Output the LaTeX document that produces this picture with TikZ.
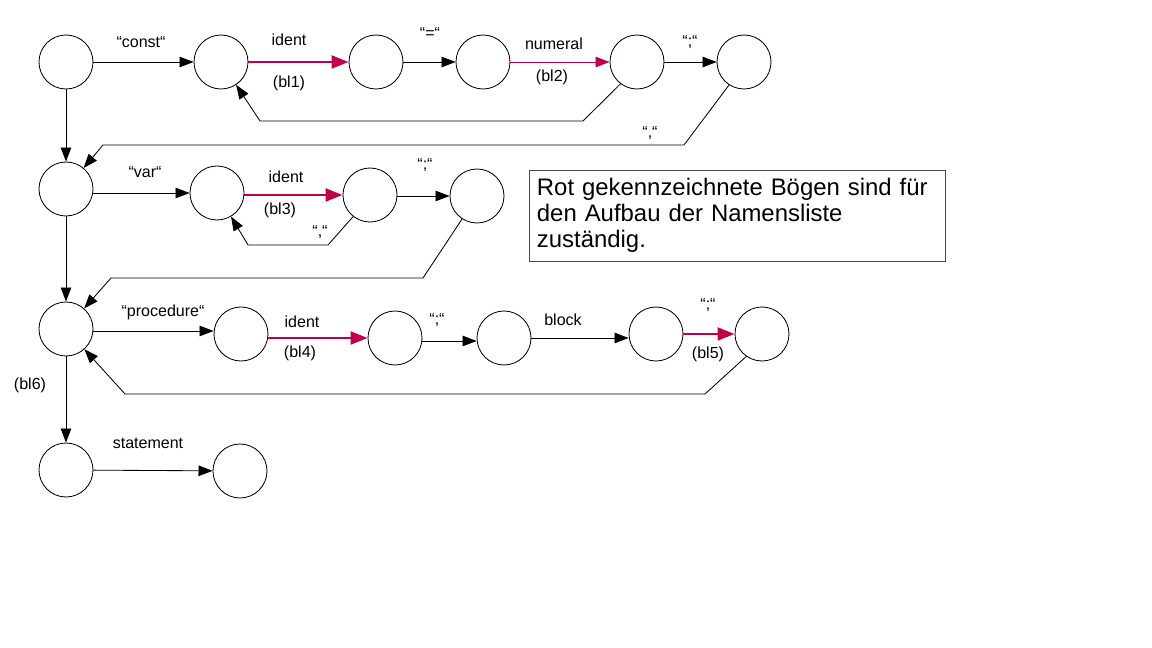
\documentclass[tikz,border=0pt]{standalone}
\usepackage{fontspec}
\setmainfont{Liberation Sans}
\usetikzlibrary{arrows.meta}
\definecolor{namered}{RGB}{190,0,75}
\tikzstyle{State}=[circle, minimum size=1.35cm, inner sep=0pt, draw=black, line width=0.6pt]
\tikzstyle{Label}=[font=\fontsize{11.4}{13}\selectfont, inner sep=1pt]
\tikzstyle{Arc}=[-{Triangle[length=10pt,width=7.5pt]}, draw=black, line width=0.6pt]
\tikzstyle{NameArc}=[-{Triangle[length=12pt,width=9pt]}, draw=namered, line width=2pt]

\begin{document}
\begin{tikzpicture}[x=0.025cm, y=-0.025cm]
    \useasboundingbox (0,0) rectangle (1152,648);

    % states of the block graph
    \path
    (66,62) node[State] (k1) {}
    (221,62) node[State] (k2) {}
    (376,62) node[State] (k3) {}
    (483,62) node[State] (k4) {}
    (637,62) node[State] (k5) {}
    (744,62) node[State] (k6) {};

    \path
    (66,189) node[State] (v1) {}
    (217,193) node[State] (v2) {}
    (370,195) node[State] (v3) {}
    (477,196) node[State] (v4) {};

    \path
    (66,329) node[State] (p1) {}
    (241,334) node[State] (p2) {}
    (395,338) node[State] (p3) {}
    (504,338) node[State] (p4) {}
    (656,334) node[State] (p5) {}
    (762,334) node[State] (p6) {};

    \path
    (66,470) node[State] (s1) {}
    (240,471) node[State] (s2) {};

    % const part
    \draw[Arc] (k1) -- (k2);
    \draw[NameArc] (k2) -- (k3);
    \draw[Arc] (k3) -- (k4);
    \draw[Arc, draw=namered] (k4) -- (k5);
    \draw[Arc] (k5) -- (k6);
    \draw[Arc] (k5.233) -- (583,121) -- (260,121) -- (k2);
    \draw[Arc] (k6.237) -- (684,145) -- (103,145) -- (v1);
    \draw[Arc] (k1) -- (v1);

    % var part
    \draw[Arc] (v1.east |- v2) -- (v2);
    \draw[NameArc] (v2.east |- v3) -- (v3);
    \draw[Arc] (v3.east |- v4) -- (v4);
    \draw[Arc] (v3.232) -- (328,245) -- (248,245) -- (v2);
    \draw[Arc] (v4.237) -- (423,278) -- (111,278) -- (p1);
    \draw[Arc] (v1) -- (p1);

    % procedure part
    \draw[Arc] (p1.east |- 0,331) -- (p2.west |- 0,331);
    \draw[NameArc] (p2.east |- p3) -- (p3);
    \draw[Arc] (p3.east |- 0,341) -- (p4.west |- 0,341);
    \draw[Arc] (p4.east |- 0,338) -- (p5.west |- 0,338);
    \draw[NameArc] (p5) -- (p6);
    \draw[Arc] (p6.235) -- (705,394) -- (125,394) -- (p1);
    \draw[Arc] (p1) -- (s1);

    % statement
    \draw[Arc] (s1) -- (s2);

    \path
    (141,42) node[Label] (lconst) {“const“}
    (289,40) node[Label] (lident1) {ident}
    (289,83) node[Label] (lbl1) {(bl1)}
    (430,33) node[Label] (leq) {“=“}
    (554,44) node[Label] (lnum) {numeral}
    (552,77) node[Label] (lbl2) {(bl2)}
    (690,42) node[Label] (lsemi1) {“;“}
    (650,133) node[Label] (lcomma1) {“,“};

    \path
    (145,172) node[Label] (lvar) {“var“}
    (286,177) node[Label] (lident2) {ident}
    (280,210) node[Label] (lbl3) {(bl3)}
    (425,165) node[Label] (lsemi2) {“;“}
    (320,232) node[Label] (lcomma2) {“,“};

    \path
    (163,312) node[Label] (lproc) {“procedure“}
    (302,322) node[Label] (lident3) {ident}
    (300,353) node[Label] (lbl4) {(bl4)}
    (437,320) node[Label] (lsemi3) {“;“}
    (563,320) node[Label] (lblock) {block}
    (708,305) node[Label] (lsemi4) {“;“}
    (708,354) node[Label] (lbl5) {(bl5)}
    (30,385) node[Label] (lbl6) {(bl6)}
    (148,443) node[Label] (lstmt) {statement};

    % note
    \path (737,215.5) node[draw=black!70, line width=0.6pt, minimum width=10.4cm, minimum height=2.275cm,
        text width=10cm, align=left, font=\fontsize{17}{18.6}\selectfont] (note)
        {Rot gekennzeichnete Bögen sind für\\den Aufbau der Namensliste\\zuständig.};
\end{tikzpicture}
\end{document}
